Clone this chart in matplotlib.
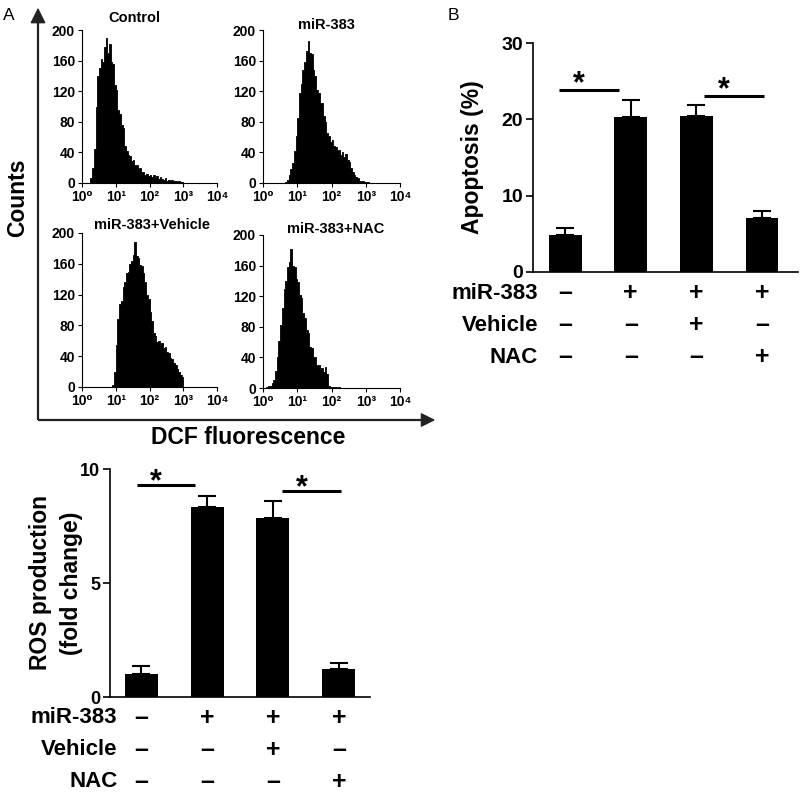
import matplotlib
matplotlib.use('Agg')
import matplotlib.pyplot as plt
import numpy as np

plt.rcParams['font.family'] = ['Liberation Sans', 'DejaVu Sans']
plt.rcParams['font.weight'] = 'bold'

# flow cytometry histograms: counts per 0.05-decade channel,
# first channel starts at log10(DCF) = *_start
BIN = 0.05
hist_titles = ['Control', 'miR-383', 'miR-383+Vehicle', 'miR-383+NAC']
control_start = 0.20
control_counts = [0, 6, 20, 45, 100, 140, 150, 162, 158, 178, 190, 170, 182, 158,
                  156, 128, 122, 96, 90, 76, 72, 48, 42, 36, 35, 29, 30, 23, 24,
                  18, 19, 14, 15, 11, 12, 9, 11, 8, 10, 6, 9, 5, 8, 5, 4, 7, 3,
                  4, 3, 4, 2, 3, 1, 2, 1, 1]
mir_start = 0.65
mir_counts = [1, 4, 10, 18, 26, 42, 62, 85, 118, 130, 148, 158, 172, 186, 170,
              168, 148, 140, 122, 118, 104, 104, 88, 80, 66, 62, 54, 56, 48, 47,
              42, 43, 36, 40, 34, 38, 30, 28, 20, 14, 11, 8, 6, 3, 3, 2, 1, 1, 1]
vehicle_start = 0.90
vehicle_counts = [3, 20, 55, 88, 108, 112, 130, 136, 148, 150, 160, 163, 172,
                  188, 170, 168, 158, 157, 148, 137, 120, 114, 98, 86, 70, 66,
                  58, 60, 55, 57, 50, 52, 45, 44, 38, 37, 31, 29, 23, 20, 15, 13]
nac_start = 0.10
nac_counts = [1, 2, 3, 6, 10, 22, 40, 62, 83, 105, 130, 140, 158, 165, 182, 160,
              158, 142, 138, 122, 118, 98, 92, 76, 72, 54, 52, 40, 40, 30, 30,
              25, 26, 21, 28, 18, 2, 1, 1, 1, 1, 1, 1]
hist_yticks = [0, 40, 80, 120, 160, 200]
hist_xtick_labels = ['10⁰', '10¹', '10²', '10³', '10⁴']

# bar charts
conditions = ['miR-383', 'Vehicle', 'NAC']
signs = [['–', '+', '+', '+'],
         ['–', '–', '+', '–'],
         ['–', '–', '–', '+']]
ros_mean = [1.0, 8.35, 7.85, 1.25]
ros_err = [0.35, 0.47, 0.73, 0.26]
ros_sig = [(-0.06, 0.82, 9.31), (2.14, 3.03, 9.02)]
apo_mean = [4.8, 20.3, 20.4, 7.1]
apo_err = [1.0, 2.2, 1.45, 0.9]
apo_sig = [(-0.09, 0.82, 23.9), (2.12, 3.03, 23.1)]

W, H = 800, 799
fig = plt.figure(figsize=(W / 100, H / 100), dpi=100)


def px_axes(left, top, right, bottom):
    return fig.add_axes([left / W, 1 - bottom / H, (right - left) / W, (bottom - top) / H])


# outer arrows of panel A
ov = fig.add_axes([0, 0, 1, 1])
ov.set_xlim(0, W)
ov.set_ylim(H, 0)
ov.axis('off')
ov.plot([38, 38], [420, 20], color='#222222', lw=1.6, solid_capstyle='butt')
ov.plot([38, 425], [420, 420], color='#222222', lw=1.6, solid_capstyle='butt')
ov.annotate('', xy=(38, 5), xytext=(38, 24),
            arrowprops=dict(arrowstyle='-|>', color='#222222', lw=1, mutation_scale=24))
ov.annotate('', xy=(438, 420), xytext=(420, 420),
            arrowprops=dict(arrowstyle='-|>', color='#222222', lw=1, mutation_scale=22))
ov.text(18, 198, 'Counts', rotation=90, ha='center', va='center', fontsize=16.5)
ov.text(248, 438, 'DCF fluorescence', ha='center', va='center', fontsize=16.5)
ov.text(9, 15, 'A', ha='center', va='center', fontsize=12.5, fontweight='normal')
ov.text(453, 16, 'B', ha='center', va='center', fontsize=12.5, fontweight='normal')

# histograms
hist_boxes = [(82, 30, 217, 183), (263, 30, 400, 183), (82, 233, 217, 387), (263, 235, 400, 388)]
hist_title_pos = [(0.385, 1.078), (0.46, 1.035), (0.52, 1.05), (0.53, 1.04)]
hist_data = [(control_start, control_counts), (mir_start, mir_counts),
             (vehicle_start, vehicle_counts), (nac_start, nac_counts)]
for box, title, tpos, (start, counts) in zip(hist_boxes, hist_titles, hist_title_pos, hist_data):
    ax = px_axes(*box)
    edges = 10 ** (start + BIN * np.arange(len(counts) + 1))
    ax.fill_between(np.repeat(edges, 2)[1:-1], np.repeat(counts, 2), color='black',
                    lw=0.6, edgecolor='black', antialiased=False)
    ax.set_xscale('log')
    ax.set_xlim(1, 1e4)
    ax.set_ylim(0, 200)
    ax.set_xticks([1, 10, 100, 1000, 10000])
    ax.set_xticklabels(hist_xtick_labels)
    ax.xaxis.set_minor_locator(matplotlib.ticker.LogLocator(base=10, subs=np.arange(2, 10)))
    ax.xaxis.set_minor_formatter(matplotlib.ticker.NullFormatter())
    ax.set_yticks(hist_yticks)
    for s in ['top', 'right']:
        ax.spines[s].set_visible(False)
    for s in ['left', 'bottom']:
        ax.spines[s].set_linewidth(0.8)
    ax.tick_params(axis='both', which='major', labelsize=10, length=3, width=0.8, pad=2)
    ax.tick_params(axis='x', which='minor', length=2, width=0.6)
    ax.text(tpos[0], tpos[1], title, transform=ax.transAxes, ha='center', va='center',
            fontsize=10.5)


def bar_panel(ax, means, errs, sigs, ymax, yticks, tick_size, ylabel, ylabel_x,
              label_x, star_dy):
    pos = np.arange(len(means))
    ax.bar(pos, means, width=0.5, color='black', zorder=2)
    ax.errorbar(pos, means, yerr=[np.zeros(len(errs)), errs], fmt='none',
                ecolor='black', elinewidth=1.5, capsize=6.5, capthick=1.5, zorder=1)
    for x0, x1, y in sigs:
        ax.plot([x0, x1], [y, y], color='black', lw=2.2, solid_capstyle='butt')
        ax.text((x0 + x1) / 2 - 0.15, y + star_dy, '*', ha='center', va='center', fontsize=22)
    ax.set_ylim(0, ymax)
    ax.set_yticks(yticks)
    ax.set_xticks([])
    for s in ['top', 'right']:
        ax.spines[s].set_visible(False)
    for s in ['left', 'bottom']:
        ax.spines[s].set_linewidth(1.2)
    ax.tick_params(axis='y', labelsize=tick_size, length=5, width=1.2, pad=2)
    ax.text(ylabel_x, 0.5, ylabel, transform=ax.transAxes, rotation=90, ha='center',
            va='center', fontsize=16.5, linespacing=1.45)
    tr = ax.get_xaxis_transform()
    for row, (cond, ys) in enumerate(zip(conditions, [-0.092, -0.232, -0.372])):
        ax.text(label_x, ys, cond, transform=tr, ha='right', va='center', fontsize=16)
        for p, s in zip(pos, signs[row]):
            ax.text(p, ys, s, transform=tr, ha='center', va='center', fontsize=18)


ax_ros = px_axes(110, 469, 370, 697)
ax_ros.set_xlim(-0.47, 3.47)
bar_panel(ax_ros, ros_mean, ros_err, ros_sig, 10, [0, 5, 10], 13,
          'ROS production\n(fold change)', -0.208, -0.36, 0.12)

ax_apo = px_axes(533, 43, 798, 272)
ax_apo.set_xlim(-0.49, 3.55)
bar_panel(ax_apo, apo_mean, apo_err, apo_sig, 30, [0, 10, 20, 30], 14,
          'Apoptosis (%)', -0.23, -0.41, 0.75)

fig.savefig('out.png', dpi=100)
